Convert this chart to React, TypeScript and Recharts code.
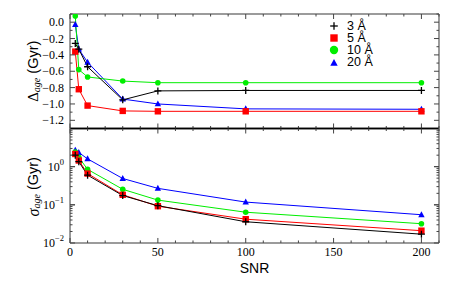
import React from 'react';
import { LineChart, Line, XAxis, YAxis, Legend } from 'recharts';

// ---------- data ----------
const snr = [3, 5, 10, 30, 50, 100, 200];
const seriesNames = ['3 Å', '5 Å', '10 Å', '20 Å'];
const delta3 = [-0.26, -0.33, -0.545, -0.95, -0.84, -0.835, -0.835];
const delta5 = [-0.36, -0.82, -1.02, -1.085, -1.09, -1.09, -1.09];
const delta10 = [0.075, -0.58, -0.67, -0.72, -0.74, -0.74, -0.74];
const delta20 = [-0.03, -0.33, -0.49, -0.94, -1.0, -1.06, -1.065];
const sigma3 = [2.0, 1.35, 0.6, 0.175, 0.095, 0.036, 0.017];
const sigma5 = [2.15, 1.45, 0.66, 0.183, 0.092, 0.042, 0.021];
const sigma10 = [2.4, 1.75, 0.85, 0.255, 0.133, 0.064, 0.032];
const sigma20 = [2.7, 2.35, 1.6, 0.49, 0.27, 0.118, 0.055];

const xTicks = [0, 10, 20, 30, 40, 50, 60, 70, 80, 90, 100, 110, 120, 130, 140, 150, 160, 170, 180, 190, 200, 210];
const xMajor = [0, 50, 100, 150, 200];
const dTicks = [-1.3, -1.2, -1.1, -1.0, -0.9, -0.8, -0.7, -0.6, -0.5, -0.4, -0.3, -0.2, -0.1, 0.0, 0.1];
const dMajor = [-1.2, -1.0, -0.8, -0.6, -0.4, -0.2, 0.0];
const sTicks = [0.02, 0.03, 0.04, 0.05, 0.06, 0.07, 0.08, 0.09, 0.1, 0.2, 0.3, 0.4, 0.5, 0.6, 0.7, 0.8, 0.9, 1, 2, 3, 4, 5, 6, 7, 8, 9];
const sMajor = [0.01, 0.1, 1];
const sLabels: Record<string, string> = { '0.01': '−2', '0.1': '−1', '1': '0' };

const rows = snr.map((s, i) => ({
  snr: s,
  d3: delta3[i], d5: delta5[i], d10: delta10[i], d20: delta20[i],
  s3: sigma3[i], s5: sigma5[i], s10: sigma10[i], s20: sigma20[i],
}));

const colors = ['#000000', '#ff0000', '#00ee00', '#0000ff'];
const shapes = ['plus', 'square', 'circle', 'triangle'];

// ---------- style ----------
const W = 463;
const Z = 0.01; // near-zero axis thickness (0 is not drawn)
const SERIF = "'Liberation Serif', 'Times New Roman', serif";
const SANS = "'Liberation Sans', Arial, sans-serif";
const FRAME = '#7a7a7a';
const TICK = '#444';
const serifStyle = { fontFamily: SERIF };
const sansStyle = { fontFamily: SANS };

function Marker({ shape, cx, cy, s, color }: any) {
  if (cx == null || cy == null) return null;
  if (shape === 'plus') {
    return (
      <g>
        <line x1={cx - s} x2={cx + s} y1={cy} y2={cy} stroke={color} strokeWidth={1.3} />
        <line x1={cx} x2={cx} y1={cy - s} y2={cy + s} stroke={color} strokeWidth={1.3} />
      </g>
    );
  }
  if (shape === 'square') return <rect x={cx - s} y={cy - s} width={2 * s} height={2 * s} fill={color} />;
  if (shape === 'circle') return <circle cx={cx} cy={cy} r={s} fill={color} />;
  return <polygon points={`${cx},${cy - s * 1.1} ${cx - s},${cy + s * 0.75} ${cx + s},${cy + s * 0.75}`} fill={color} />;
}

const plotSizes = [3.5, 3.2, 2.8, 3.2];

const near = (a: number, list: number[]) => list.some((m) => Math.abs(m - a) < 1e-6);

function makeTick(side: string, majors: number[]) {
  return (props: any) => {
    const { x, y, payload } = props;
    const v = payload.value;
    const major = near(v, majors);
    const len = major ? 5 : 2.5;
    if (side === 'bottom') return <line x1={x} x2={x} y1={y} y2={y - len} stroke={TICK} strokeWidth={1} />;
    if (side === 'top') return <line x1={x} x2={x} y1={y} y2={y + len} stroke={TICK} strokeWidth={1} />;
    if (side === 'left') return <line x1={x} x2={x + len} y1={y} y2={y} stroke={TICK} strokeWidth={1} />;
    return <line x1={x} x2={x - len} y1={y} y2={y} stroke={TICK} strokeWidth={1} />;
  };
}

const fmtD = (v: number) => {
  const s = Math.abs(v).toFixed(1);
  return v < -1e-9 ? '−' + s : s;
};

const DeltaLabel = (props: any) => {
  const vb = props.viewBox || { x: 70, y: 14, height: 114 };
  const cx = vb.x - 37;
  const cy = vb.y + vb.height / 2;
  return (
    <text x={cx} y={cy} transform={`rotate(-90 ${cx} ${cy})`} textAnchor="middle" dominantBaseline="central" fontSize={14.5} style={sansStyle} fill="#000">
      <tspan style={serifStyle} fontSize={15}>Δ</tspan>
      <tspan style={{ ...serifStyle, fontStyle: 'italic' }} fontSize={10} dy={3}>age</tspan>
      <tspan dy={-3}> (Gyr)</tspan>
    </text>
  );
};

const SigmaLabel = (props: any) => {
  const vb = props.viewBox || { x: 70, y: 128, height: 115 };
  const cx = vb.x - 37;
  const cy = vb.y + vb.height / 2 + 1;
  return (
    <text x={cx} y={cy} transform={`rotate(-90 ${cx} ${cy})`} textAnchor="middle" dominantBaseline="central" fontSize={14.5} style={sansStyle} fill="#000">
      <tspan style={{ ...serifStyle, fontStyle: 'italic' }} fontSize={16}>σ</tspan>
      <tspan style={{ ...serifStyle, fontStyle: 'italic' }} fontSize={10} dy={3}>age</tspan>
      <tspan dy={-3}> (Gyr)</tspan>
    </text>
  );
};

const SnrLabel = (props: any) => {
  const vb = props.viewBox || { x: 70, y: 243, width: 370 };
  return (
    <text x={vb.x + vb.width / 2} y={vb.y + 25} textAnchor="middle" dominantBaseline="central" fontSize={14} style={sansStyle} fill="#000">
      SNR
    </text>
  );
};

const renderLegend = () => (
  <div style={{ fontFamily: SANS, fontSize: 12.5, lineHeight: '12.3px' }}>
    {seriesNames.map((n, idx) => (
      <div key={n} style={{ display: 'flex', alignItems: 'center', height: 12.3 }}>
        <svg width={14} height={12} style={{ display: 'block' }}>
          <Marker shape={shapes[idx]} cx={7} cy={6} s={idx === 2 ? 4.2 : idx === 0 ? 3.8 : 3.7} color={colors[idx]} />
        </svg>
        <span style={{ marginLeft: 6, whiteSpace: 'nowrap' }}>{n}</span>
      </div>
    ))}
  </div>
);

const dotFor = (idx: number) => (p: any) => (
  <Marker key={`m${idx}-${p.index}`} shape={shapes[idx]} cx={p.cx} cy={p.cy} s={plotSizes[idx]} color={colors[idx]} />
);

const lineKeysTop = ['d3', 'd5', 'd10', 'd20'];
const lineKeysBot = ['s3', 's5', 's10', 's20'];
const drawOrder = [3, 2, 1, 0];

export default function App() {
  return (
    <div style={{ position: 'absolute', left: 0, top: 0, width: W, height: 286, background: '#fff' }}>
      {/* Top panel */}
      <div style={{ position: 'absolute', left: 0, top: 0 }}>
        <LineChart width={W} height={140} data={rows} margin={{ top: 14, right: 24, bottom: 11.5, left: 70 }}>
          <XAxis xAxisId="tb" type="number" dataKey="snr" domain={[0, 210]} ticks={xTicks} interval={0} height={Z} orientation="bottom"
            tickLine={false} tickSize={0} tickMargin={0} axisLine={{ stroke: '#000', strokeWidth: 1.3 }} tick={makeTick('bottom', xMajor)} />
          <XAxis xAxisId="tt" type="number" dataKey="snr" domain={[0, 210]} ticks={xTicks} interval={0} height={Z} orientation="top"
            tickLine={false} tickSize={0} tickMargin={0} axisLine={{ stroke: FRAME, strokeWidth: 1.5 }} tick={makeTick('top', xMajor)} />
          <YAxis yAxisId="tl" type="number" domain={[-1.3, 0.1]} ticks={dTicks} interval={0} width={Z} orientation="left"
            tickLine={false} tickSize={0} tickMargin={0} axisLine={{ stroke: FRAME, strokeWidth: 1.5 }} allowDataOverflow
            tick={makeTick('left', dMajor)} label={<DeltaLabel />} />
          <YAxis yAxisId="tr" type="number" domain={[-1.3, 0.1]} ticks={dTicks} interval={0} width={Z} orientation="right"
            tickLine={false} tickSize={0} tickMargin={0} axisLine={{ stroke: FRAME, strokeWidth: 1.5 }} allowDataOverflow
            tick={makeTick('right', dMajor)} />
          <YAxis yAxisId="tlab" type="number" domain={[-1.3, 0.1]} ticks={dMajor} interval={0} width={Z} orientation="left"
            tickLine={false} tickSize={0} tickMargin={6} axisLine={false} allowDataOverflow
            tick={(p: any) => (
              <text x={p.x} y={p.y} textAnchor="end" dominantBaseline="central" style={serifStyle} fontSize={12} fill="#000">{fmtD(p.payload.value)}</text>
            )} />
          {drawOrder.map((i) => (
            <Line key={lineKeysTop[i]} xAxisId="tb" yAxisId="tl" dataKey={lineKeysTop[i]} name={seriesNames[i]} stroke={colors[i]} strokeWidth={1}
              dot={dotFor(i)} activeDot={false} isAnimationActive={false} />
          ))}
          <Legend layout="vertical" align="center" verticalAlign="middle"
            content={renderLegend}
            wrapperStyle={{ position: 'absolute', left: 327, top: 19.5, width: 80, height: 50 }} />
        </LineChart>
      </div>

      {/* Bottom panel */}
      <div style={{ position: 'absolute', left: 0, top: 120 }}>
        <LineChart width={W} height={166} data={rows} margin={{ top: 8.5, right: 24, bottom: 43, left: 70 }}>
          <XAxis xAxisId="bb" type="number" dataKey="snr" domain={[0, 210]} ticks={xTicks} interval={0} height={Z} orientation="bottom"
            tickLine={false} tickSize={0} tickMargin={0} axisLine={{ stroke: FRAME, strokeWidth: 1.5 }}
            tick={makeTick('bottom', xMajor)} label={<SnrLabel />} />
          <XAxis xAxisId="blab" type="number" dataKey="snr" domain={[0, 210]} ticks={xMajor} interval={0} height={Z} orientation="bottom"
            tickLine={false} tickSize={0} tickMargin={9} axisLine={false}
            tick={(p: any) => (
              <text x={p.x} y={p.y} textAnchor="middle" dominantBaseline="central" style={serifStyle} fontSize={12} fill="#000">{p.payload.value}</text>
            )} />
          <XAxis xAxisId="bt" type="number" dataKey="snr" domain={[0, 210]} ticks={xTicks} interval={0} height={Z} orientation="top"
            tickLine={false} tickSize={0} tickMargin={0} axisLine={{ stroke: '#000', strokeWidth: 1.3 }} tick={makeTick('top', xMajor)} />
          <YAxis yAxisId="bl" type="number" scale="log" domain={[0.01, 10]} ticks={[...sMajor, ...sTicks]} interval={0} width={Z} orientation="left"
            tickLine={false} tickSize={0} tickMargin={0} axisLine={{ stroke: FRAME, strokeWidth: 1.5 }} allowDataOverflow
            tick={makeTick('left', sMajor)} label={<SigmaLabel />} />
          <YAxis yAxisId="br" type="number" scale="log" domain={[0.01, 10]} ticks={[...sMajor, ...sTicks]} interval={0} width={Z} orientation="right"
            tickLine={false} tickSize={0} tickMargin={0} axisLine={{ stroke: FRAME, strokeWidth: 1.5 }} allowDataOverflow
            tick={makeTick('right', sMajor)} />
          <YAxis yAxisId="blab" type="number" scale="log" domain={[0.01, 10]} ticks={sMajor} interval={0} width={Z} orientation="left"
            tickLine={false} tickSize={0} tickMargin={6} axisLine={false} allowDataOverflow
            tick={(p: any) => (
              <text x={p.x} y={p.y} textAnchor="end" dominantBaseline="central" style={serifStyle} fontSize={12} fill="#000">
                <tspan>10</tspan>
                <tspan fontSize={8.5} dy={-5}>{sLabels[String(p.payload.value)]}</tspan>
              </text>
            )} />
          {drawOrder.map((i) => (
            <Line key={lineKeysBot[i]} xAxisId="bb" yAxisId="bl" dataKey={lineKeysBot[i]} name={seriesNames[i]} stroke={colors[i]} strokeWidth={1}
              dot={dotFor(i)} activeDot={false} isAnimationActive={false} />
          ))}
        </LineChart>
      </div>
    </div>
  );
}
